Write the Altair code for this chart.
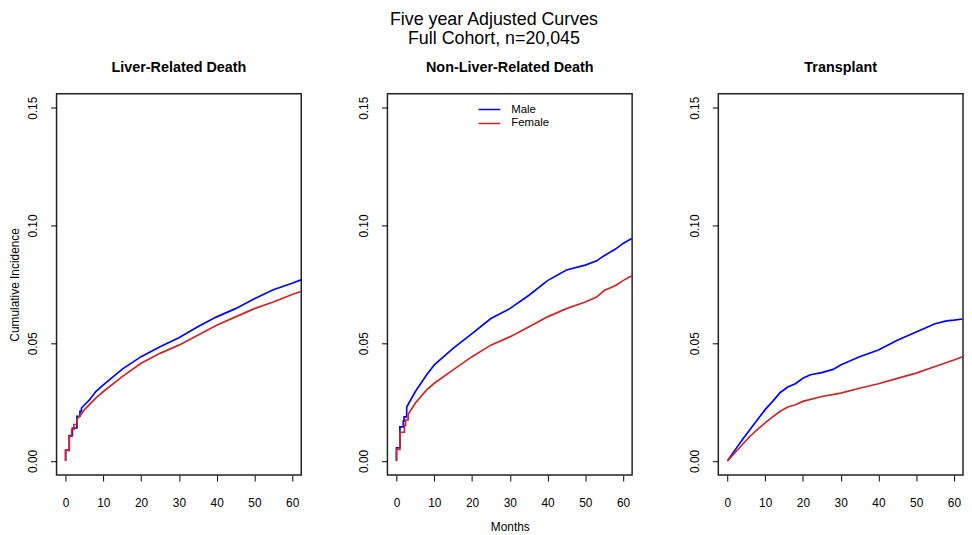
import altair as alt
import pandas as pd

# ---- data ----
panels = ["Liver-Related Death", "Non-Liver-Related Death", "Transplant"]
sexes = ["Male", "Female"]
x_ticks = [0, 10, 20, 30, 40, 50, 60]
y_ticks = [0.0, 0.05, 0.10, 0.15]

liver_male_m = [0, 0, 0.95, 0.95, 1.8, 1.8, 3, 3, 3.8, 3.8, 4.2, 4.2, 5.3, 6.2, 8, 10, 15, 20, 25, 30, 35, 40, 45, 50, 55, 60, 62.3]
liver_male_v = [0, 0.0046, 0.0046, 0.0108, 0.0108, 0.014, 0.014, 0.019, 0.019, 0.0211, 0.0211, 0.0225, 0.0243, 0.0257, 0.0295, 0.0323, 0.039, 0.0443, 0.0485, 0.0523, 0.057, 0.0612, 0.0647, 0.0689, 0.0727, 0.0755, 0.0769]
liver_female_m = [0, 0, 1, 1, 1.6, 1.6, 2.2, 2.2, 3, 3, 4, 5, 8, 10, 15, 20, 25, 30, 35, 40, 45, 50, 55, 60, 62.3]
liver_female_v = [0, 0.0045, 0.0045, 0.0105, 0.0105, 0.0134, 0.0134, 0.0155, 0.0155, 0.0178, 0.0195, 0.0218, 0.0267, 0.0295, 0.0358, 0.0415, 0.0457, 0.0492, 0.0534, 0.0576, 0.0612, 0.0647, 0.0675, 0.0707, 0.072]

nonliver_male_m = [0, 0, 0.9, 0.9, 1.8, 1.8, 2.0, 2.0, 2.7, 2.7, 5, 8, 10, 15, 20, 25, 30, 35, 40, 45, 50, 53, 55, 58, 60, 62.3]
nonliver_male_v = [0, 0.0056, 0.0056, 0.0145, 0.0145, 0.0169, 0.0169, 0.0187, 0.0187, 0.0229, 0.0295, 0.0366, 0.0408, 0.0478, 0.0541, 0.0605, 0.0647, 0.0703, 0.0766, 0.0811, 0.0832, 0.085, 0.0872, 0.09, 0.0924, 0.0945]
nonliver_female_m = [0, 0, 0.9, 0.9, 2.1, 2.1, 2.4, 2.4, 3.1, 3.1, 5, 8, 10, 15, 20, 25, 30, 35, 40, 45, 50, 53, 55, 58, 60, 62.3]
nonliver_female_v = [0, 0.0049, 0.0049, 0.0122, 0.0122, 0.0151, 0.0151, 0.0174, 0.0174, 0.0198, 0.0246, 0.0302, 0.033, 0.0387, 0.0443, 0.0492, 0.0527, 0.0569, 0.0612, 0.0647, 0.0675, 0.0696, 0.0724, 0.0745, 0.0766, 0.0787]

transplant_male_m = [0, 2, 4, 6, 8, 10, 12, 14, 16, 18, 20, 22, 25, 28, 30, 35, 40, 45, 50, 55, 58, 60, 62.3]
transplant_male_v = [0, 0.0046, 0.0091, 0.0134, 0.0176, 0.0218, 0.0253, 0.0291, 0.0314, 0.0328, 0.0351, 0.0366, 0.0375, 0.0389, 0.0408, 0.0443, 0.0471, 0.0513, 0.0548, 0.0583, 0.0595, 0.0598, 0.0603]
transplant_female_m = [0, 2, 4, 6, 8, 10, 12, 14, 16, 18, 20, 25, 30, 35, 40, 45, 50, 55, 60, 62.3]
transplant_female_v = [0, 0.0035, 0.007, 0.0105, 0.0134, 0.0162, 0.0187, 0.0211, 0.0229, 0.0239, 0.0253, 0.0274, 0.0288, 0.0309, 0.0328, 0.0351, 0.0373, 0.0401, 0.0429, 0.0443]

series = {
    panels[0]: {"Male": (liver_male_m, liver_male_v), "Female": (liver_female_m, liver_female_v)},
    panels[1]: {"Male": (nonliver_male_m, nonliver_male_v), "Female": (nonliver_female_m, nonliver_female_v)},
    panels[2]: {"Male": (transplant_male_m, transplant_male_v), "Female": (transplant_female_m, transplant_female_v)},
}

rows = []
for p, d in series.items():
    for s in sexes:
        ms, vs = d[s]
        for i, (m, v) in enumerate(zip(ms, vs)):
            rows.append({"panel": p, "sex": s, "month": m, "value": v, "idx": i})
df = pd.DataFrame(rows)

FONT = "Liberation Sans"
BLUE = "#0000FF"
RED = "#CD2626"


def panel(i, name):
    x_axis = alt.Axis(
        values=x_ticks, format="d", grid=False, domain=False,
        tickSize=6, tickColor="black", tickWidth=1,
        labelFontSize=12, labelColor="black", labelPadding=17, labelFont=FONT,
        title="Months" if i == 1 else None,
        titleFontSize=12, titleFontWeight="normal", titleColor="black",
        titlePadding=13, titleFont=FONT,
    )
    y_axis = alt.Axis(
        values=y_ticks, format=".2f", grid=False, domain=False,
        tickSize=6, tickColor="black", tickWidth=1,
        labelFontSize=12, labelColor="black", labelPadding=11, labelFont=FONT,
        labelAngle=270, labelAlign="center", labelBaseline="bottom",
        title="Cumulative Incidence" if i == 0 else None,
        titleFontSize=12, titleFontWeight="normal", titleColor="black",
        titlePadding=5, titleFont=FONT,
    )
    if i == 1:
        legend = alt.Legend(
            title=None, orient="none", legendX=91, legendY=10,
            symbolType="stroke", symbolSize=484, symbolStrokeWidth=1.5,
            labelFontSize=11.5, labelFont=FONT, labelColor="black",
            labelOffset=10, clipHeight=12, rowPadding=2, padding=0,
        )
    else:
        legend = None
    return (
        alt.Chart(df[df.panel == name])
        .mark_line(strokeWidth=1.7, clip=True)
        .encode(
            x=alt.X("month:Q", scale=alt.Scale(domain=[-2.4, 62.4], nice=False, zero=False), axis=x_axis),
            y=alt.Y("value:Q", scale=alt.Scale(domain=[-0.006, 0.156], nice=False, zero=False), axis=y_axis),
            color=alt.Color("sex:N", scale=alt.Scale(domain=sexes, range=[BLUE, RED]), legend=legend),
            order=alt.Order("idx:Q"),
        )
        .properties(
            width=247, height=385,
            title=alt.TitleParams(name, fontSize=14.5, fontWeight="bold", font=FONT,
                                  color="black", anchor="middle", frame="group", offset=18),
        )
    )


chart = (
    alt.hconcat(*[panel(i, n) for i, n in enumerate(panels)], spacing=87, bounds="flush")
    .resolve_legend(color="independent")
    .properties(
        title=alt.TitleParams(["Five year Adjusted Curves", "\u00a0Full Cohort, n=20,045"],
                              fontSize=18, fontWeight="normal", font=FONT, color="black",
                              anchor="middle", lineHeight=19, offset=12, dx=8),
        padding={"left": 0, "top": 0, "right": 0, "bottom": 0},
    )
    .configure(font=FONT)
    .configure_view(stroke="#222222", strokeWidth=1.5)
)

chart.save("out.html", embed_options={"renderer": "svg", "actions": False})
